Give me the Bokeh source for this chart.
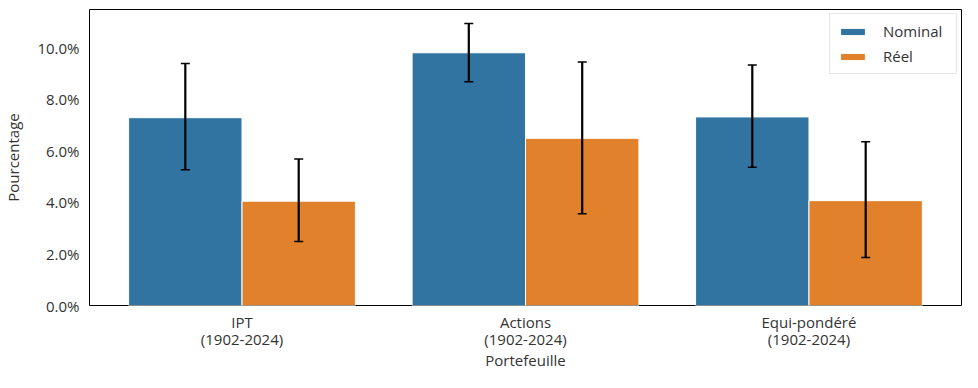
from bokeh.plotting import figure
from bokeh.models import (ColumnDataSource, Whisker, TeeHead, FixedTicker, PrintfTickFormatter,
                          Range1d, Legend, LegendItem, LinearAxis)
from bokeh.transform import dodge
from bokeh.embed import file_html
from bokeh.resources import INLINE

categories = ["IPT", "Actions", "Equi-pondéré"]
periods = ["(1902-2024)", "(1902-2024)", "(1902-2024)"]
nominal = [7.29, 9.81, 7.32]
nominal_low = [5.27, 8.69, 5.37]
nominal_high = [9.39, 10.95, 9.34]
reel = [4.05, 6.49, 4.07]
reel_low = [2.48, 3.56, 1.86]
reel_high = [5.69, 9.45, 6.36]
y_ticks = [0, 2, 4, 6, 8, 10]

FONT = "Open Sans"
TXT = "#333333"
BLUE = "#3274a1"
ORANGE = "#e1812c"

src = ColumnDataSource(dict(
    x=list(range(len(categories))),
    nominal=nominal, nominal_low=nominal_low, nominal_high=nominal_high,
    reel=reel, reel_low=reel_low, reel_high=reel_high,
))

p = figure(width=962, height=372, output_backend="svg", toolbar_location=None,
           x_range=Range1d(-0.538, 2.538), y_range=Range1d(0, 11.49),
           min_border_left=89, min_border_right=1, min_border_top=9, min_border_bottom=40)

r1 = p.vbar(x=dodge("x", -0.2), top="nominal", width=0.4, source=src,
            fill_color=BLUE, line_color="white", line_width=1)
r2 = p.vbar(x=dodge("x", 0.2), top="reel", width=0.4, source=src,
            fill_color=ORANGE, line_color="white", line_width=1)

for off, lo, hi in [(-0.2, "nominal_low", "nominal_high"), (0.2, "reel_low", "reel_high")]:
    w = Whisker(base=dodge("x", off), lower=lo, upper=hi, source=src, level="overlay",
                line_color="black", line_width=2.2,
                upper_head=TeeHead(size=9, line_color="black", line_width=1.5),
                lower_head=TeeHead(size=9, line_color="black", line_width=1.5))
    p.add_layout(w)

p.grid.visible = False
p.outline_line_color = "black"
p.outline_line_width = 1
p.background_fill_color = "white"
p.border_fill_color = "white"

xt = FixedTicker(ticks=list(range(len(categories))))
p.xaxis.ticker = xt
p.xaxis.major_label_overrides = {i: c for i, c in enumerate(categories)}
p.yaxis.ticker = FixedTicker(ticks=y_ticks)
p.yaxis.formatter = PrintfTickFormatter(format="%.1f%%")

x2 = LinearAxis(ticker=FixedTicker(ticks=list(range(len(categories)))),
                major_label_overrides={i: c for i, c in enumerate(periods)})
p.add_layout(x2, "below")

for ax in (p.xaxis[0], x2, p.yaxis[0]):
    ax.axis_line_color = None
    ax.major_tick_line_color = None
    ax.minor_tick_line_color = None
    ax.major_tick_out = 0
    ax.major_tick_in = 0
    ax.minor_tick_out = 0
    ax.minor_tick_in = 0
    ax.major_label_text_font = FONT
    ax.major_label_text_font_size = "15px"
    ax.major_label_text_color = TXT
    ax.axis_label_text_font = FONT
    ax.axis_label_text_font_size = "15px"
    ax.axis_label_text_font_style = "normal"
    ax.axis_label_text_color = TXT

p.xaxis[0].major_label_standoff = 6
x2.major_label_standoff = -6
x2.axis_label = "Portefeuille"
x2.axis_label_standoff = -2
p.yaxis.axis_label = "Pourcentage"
p.yaxis.major_label_standoff = 10
p.yaxis.axis_label_standoff = 11

legend = Legend(items=[LegendItem(label="Nominal", renderers=[r1]),
                       LegendItem(label="Réel", renderers=[r2])],
                location="top_right")
legend.label_text_font = FONT
legend.label_text_font_size = "15px"
legend.label_text_color = TXT
legend.glyph_width = 31
legend.glyph_height = 9
legend.label_height = 20
legend.label_width = 66
legend.spacing = 5
legend.padding = 7
legend.margin = 4
legend.border_line_color = "#d0d0d0"
legend.border_line_width = 1
legend.label_standoff = 15
p.add_layout(legend)

open("out.html", "w").write(file_html(p, INLINE))
